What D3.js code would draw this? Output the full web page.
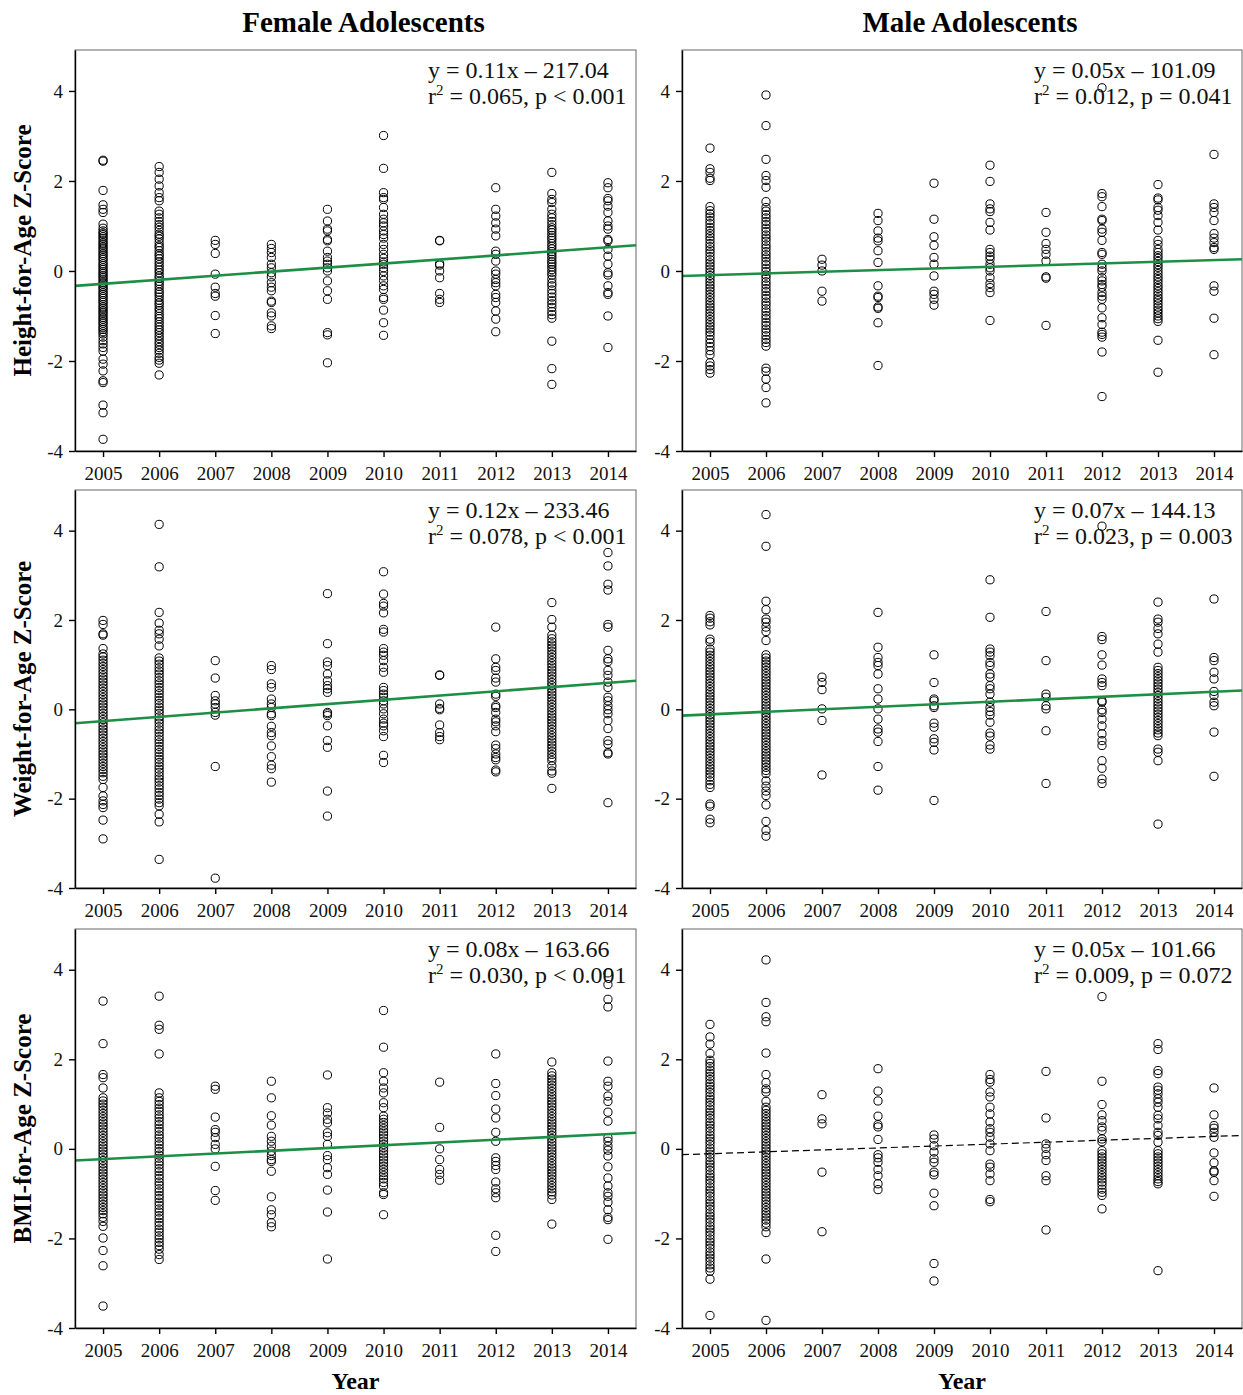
<!DOCTYPE html>
<html>
<head>
<meta charset="UTF-8">
<title>Adolescent Z-Scores by Year</title>
<script src="https://cdn.jsdelivr.net/npm/d3@7"></script>
<style>
  body { margin: 0; background: #fff; }
  svg { display: block; font-family: "Liberation Serif", "Times New Roman", serif; }
</style>
</head>
<body>
<script>
// Survey years (x axis)
var years = [2005, 2006, 2007, 2008, 2009, 2010, 2011, 2012, 2013, 2014];
var yTicks = [-4, -2, 0, 2, 4];

// Height-for-age z-scores, females, one list per year
var heightFemale = [
  [2.46, 2.44, 1.79, 1.47, 1.37, 1.30, 1.04, 0.95, 0.89, 0.84, 0.81, 0.76, 0.72, 0.67, 0.62, 0.58, 0.53, 0.49, 0.44, 0.39, 0.35, 0.30, 0.26, 0.21, 0.16, 0.12, 0.07, 0.03, -0.02, -0.06, -0.11, -0.15, -0.20, -0.25, -0.29, -0.34, -0.38, -0.43, -0.48, -0.52, -0.57, -0.61, -0.66, -0.70, -0.75, -0.80, -0.84, -0.89, -0.93, -0.98, -1.03, -1.07, -1.12, -1.16, -1.21, -1.26, -1.30, -1.35, -1.40, -1.47, -1.55, -1.62, -1.70, -1.78, -1.96, -2.07, -2.22, -2.44, -2.48, -2.98, -3.15, -3.74],
  [2.32, 2.19, 2.04, 1.89, 1.74, 1.63, 1.56, 1.33, 1.26, 1.18, 1.10, 1.03, 0.97, 0.90, 0.82, 0.77, 0.71, 0.63, 0.56, 0.52, 0.45, 0.38, 0.33, 0.27, 0.20, 0.14, 0.08, 0.02, -0.04, -0.11, -0.16, -0.23, -0.28, -0.34, -0.41, -0.47, -0.52, -0.58, -0.65, -0.71, -0.76, -0.83, -0.88, -0.95, -1.01, -1.06, -1.13, -1.19, -1.25, -1.31, -1.37, -1.44, -1.50, -1.57, -1.63, -1.70, -1.76, -1.83, -1.92, -1.98, -2.05, -2.31],
  [0.68, 0.59, 0.39, -0.07, -0.36, -0.50, -0.56, -0.99, -1.39],
  [0.59, 0.50, 0.41, 0.30, 0.15, 0.07, -0.04, -0.13, -0.26, -0.36, -0.44, -0.67, -0.70, -0.93, -1.00, -1.22, -1.28],
  [1.37, 1.11, 0.93, 0.89, 0.70, 0.67, 0.44, 0.30, 0.22, 0.15, 0.07, 0.00, -0.22, -0.44, -0.63, -1.37, -1.42, -2.04],
  [3.01, 2.28, 1.74, 1.63, 1.59, 1.41, 1.26, 1.15, 1.07, 1.00, 0.89, 0.81, 0.73, 0.59, 0.48, 0.37, 0.28, 0.20, 0.15, 0.07, -0.01, -0.11, -0.21, -0.33, -0.41, -0.59, -0.63, -0.87, -1.15, -1.43],
  [0.68, 0.67, 0.16, 0.13, 0.00, -0.15, -0.50, -0.63, -0.70],
  [1.85, 1.37, 1.22, 1.07, 0.93, 0.78, 0.44, 0.37, 0.22, 0.00, -0.07, -0.19, -0.26, -0.33, -0.52, -0.59, -0.70, -0.89, -1.07, -1.35],
  [2.19, 1.72, 1.59, 1.52, 1.37, 1.26, 1.18, 1.10, 1.03, 0.96, 0.91, 0.85, 0.79, 0.73, 0.68, 0.61, 0.55, 0.49, 0.43, 0.38, 0.32, 0.26, 0.20, 0.15, 0.09, 0.03, -0.03, -0.09, -0.18, -0.27, -0.33, -0.42, -0.50, -0.58, -0.66, -0.73, -0.81, -0.90, -0.97, -1.05, -1.56, -2.17, -2.52],
  [1.96, 1.85, 1.61, 1.56, 1.44, 1.30, 1.11, 1.00, 0.93, 0.70, 0.67, 0.48, 0.33, 0.15, -0.04, -0.09, -0.33, -0.48, -0.52, -1.00, -1.70]
];

// Height-for-age z-scores, males
var heightMale = [
  [2.73, 2.27, 2.19, 2.06, 2.01, 1.43, 1.34, 1.27, 1.20, 1.12, 1.05, 0.97, 0.90, 0.83, 0.76, 0.69, 0.61, 0.54, 0.47, 0.40, 0.32, 0.25, 0.18, 0.11, 0.04, -0.03, -0.10, -0.17, -0.24, -0.31, -0.38, -0.45, -0.52, -0.59, -0.66, -0.73, -0.80, -0.87, -0.94, -1.01, -1.08, -1.15, -1.22, -1.29, -1.36, -1.43, -1.52, -1.60, -1.68, -1.77, -1.86, -2.04, -2.11, -2.19, -2.27],
  [3.91, 3.23, 2.48, 2.12, 2.01, 1.86, 1.54, 1.41, 1.33, 1.25, 1.18, 1.10, 1.03, 0.95, 0.88, 0.80, 0.73, 0.66, 0.58, 0.51, 0.43, 0.36, 0.29, 0.21, 0.14, 0.06, -0.01, -0.09, -0.16, -0.24, -0.31, -0.39, -0.46, -0.54, -0.61, -0.69, -0.76, -0.84, -0.91, -0.99, -1.06, -1.14, -1.21, -1.29, -1.36, -1.44, -1.52, -1.59, -1.67, -2.16, -2.23, -2.40, -2.59, -2.93],
  [0.26, 0.13, 0.00, -0.45, -0.67],
  [1.28, 1.12, 0.89, 0.73, 0.67, 0.45, 0.19, -0.33, -0.56, -0.59, -0.80, -0.83, -1.15, -2.10],
  [1.95, 1.15, 0.76, 0.57, 0.30, 0.15, -0.11, -0.45, -0.52, -0.63, -0.76],
  [2.35, 1.99, 1.49, 1.38, 1.32, 1.08, 0.91, 0.48, 0.41, 0.33, 0.26, 0.15, 0.07, 0.00, -0.15, -0.28, -0.37, -0.48, -1.10],
  [1.30, 0.86, 0.61, 0.48, 0.37, 0.22, -0.13, -0.16, -1.21],
  [4.07, 1.72, 1.65, 1.43, 1.15, 1.12, 0.93, 0.86, 0.68, 0.41, 0.37, 0.15, 0.07, 0.00, -0.15, -0.22, -0.30, -0.36, -0.48, -0.56, -0.63, -0.82, -1.04, -1.19, -1.36, -1.41, -1.47, -1.80, -2.79],
  [1.92, 1.62, 1.58, 1.41, 1.35, 1.23, 1.08, 0.91, 0.68, 0.59, 0.48, 0.41, 0.34, 0.28, 0.21, 0.14, 0.08, 0.01, -0.06, -0.13, -0.19, -0.26, -0.33, -0.39, -0.46, -0.53, -0.60, -0.66, -0.73, -0.80, -0.87, -0.93, -1.00, -1.06, -1.12, -1.54, -2.25],
  [2.59, 1.49, 1.41, 1.30, 1.12, 0.83, 0.73, 0.63, 0.52, 0.48, -0.33, -0.45, -1.05, -1.86]
];

// Weight-for-age z-scores, females
var weightFemale = [
  [1.99, 1.90, 1.69, 1.66, 1.36, 1.24, 1.17, 1.10, 1.03, 0.96, 0.89, 0.82, 0.75, 0.68, 0.61, 0.54, 0.47, 0.40, 0.33, 0.26, 0.19, 0.12, 0.05, -0.02, -0.09, -0.16, -0.23, -0.30, -0.37, -0.44, -0.51, -0.58, -0.65, -0.72, -0.79, -0.86, -0.93, -1.00, -1.07, -1.14, -1.21, -1.28, -1.35, -1.42, -1.50, -1.57, -1.75, -1.94, -2.05, -2.13, -2.20, -2.48, -2.90],
  [4.14, 3.19, 2.17, 1.93, 1.77, 1.69, 1.57, 1.42, 1.15, 1.08, 1.01, 0.93, 0.86, 0.79, 0.71, 0.64, 0.57, 0.49, 0.42, 0.35, 0.27, 0.20, 0.13, 0.05, -0.02, -0.09, -0.17, -0.24, -0.31, -0.39, -0.46, -0.53, -0.61, -0.68, -0.75, -0.83, -0.90, -0.97, -1.05, -1.12, -1.19, -1.27, -1.34, -1.41, -1.49, -1.56, -1.63, -1.71, -1.78, -1.86, -1.93, -2.01, -2.09, -2.16, -2.35, -2.52, -3.36],
  [1.09, 0.70, 0.31, 0.19, 0.12, 0.04, -0.07, -0.13, -1.28, -3.78],
  [0.98, 0.89, 0.57, 0.49, 0.23, 0.12, 0.04, -0.10, -0.14, -0.38, -0.52, -0.59, -0.82, -1.06, -1.25, -1.33, -1.63],
  [2.59, 1.47, 1.06, 0.98, 0.79, 0.64, 0.53, 0.46, 0.38, -0.07, -0.10, -0.14, -0.37, -0.70, -0.85, -1.83, -2.39],
  [3.08, 2.58, 2.37, 2.31, 2.16, 1.79, 1.73, 1.36, 1.28, 1.21, 1.09, 0.94, 0.83, 0.49, 0.42, 0.34, 0.27, 0.19, 0.12, 0.01, -0.10, -0.22, -0.31, -0.37, -0.48, -0.61, -1.03, -1.19],
  [0.77, 0.76, 0.12, 0.02, -0.01, -0.35, -0.52, -0.61, -0.68],
  [1.84, 1.13, 0.94, 0.87, 0.70, 0.61, 0.34, 0.29, 0.08, 0.04, -0.07, -0.22, -0.28, -0.37, -0.50, -0.80, -0.88, -1.00, -1.08, -1.13, -1.36, -1.40],
  [2.39, 2.01, 1.84, 1.66, 1.58, 1.51, 1.44, 1.37, 1.30, 1.23, 1.16, 1.09, 1.02, 0.95, 0.88, 0.81, 0.74, 0.67, 0.60, 0.53, 0.46, 0.39, 0.32, 0.25, 0.18, 0.11, 0.04, -0.03, -0.10, -0.17, -0.24, -0.31, -0.38, -0.45, -0.52, -0.59, -0.66, -0.73, -0.80, -0.87, -0.94, -1.01, -1.08, -1.15, -1.27, -1.38, -1.43, -1.77],
  [3.51, 3.21, 2.80, 2.67, 1.90, 1.84, 1.32, 1.13, 1.07, 0.87, 0.76, 0.61, 0.49, 0.27, 0.19, 0.08, -0.01, -0.10, -0.25, -0.43, -0.70, -0.78, -0.97, -1.00, -2.09]
];

// Weight-for-age z-scores, males
var weightMale = [
  [2.10, 2.04, 1.96, 1.89, 1.57, 1.51, 1.35, 1.28, 1.21, 1.14, 1.07, 1.00, 0.93, 0.86, 0.79, 0.72, 0.65, 0.58, 0.51, 0.44, 0.37, 0.30, 0.23, 0.16, 0.09, 0.02, -0.05, -0.12, -0.19, -0.26, -0.33, -0.40, -0.47, -0.54, -0.61, -0.68, -0.75, -0.82, -0.89, -0.96, -1.03, -1.10, -1.17, -1.24, -1.31, -1.38, -1.45, -1.52, -1.60, -1.68, -1.75, -2.12, -2.17, -2.46, -2.54],
  [4.36, 3.65, 2.42, 2.23, 2.02, 1.95, 1.84, 1.74, 1.54, 1.22, 1.15, 1.08, 1.01, 0.94, 0.87, 0.80, 0.73, 0.66, 0.59, 0.52, 0.45, 0.38, 0.31, 0.24, 0.17, 0.10, 0.03, -0.04, -0.11, -0.18, -0.25, -0.32, -0.39, -0.46, -0.53, -0.60, -0.67, -0.74, -0.81, -0.88, -0.95, -1.02, -1.09, -1.16, -1.23, -1.30, -1.37, -1.44, -1.60, -1.72, -1.83, -1.93, -2.14, -2.51, -2.71, -2.84],
  [0.72, 0.60, 0.44, 0.01, -0.25, -1.47],
  [2.17, 1.39, 1.16, 1.05, 0.98, 0.79, 0.46, 0.23, 0.01, -0.22, -0.44, -0.51, -0.72, -1.28, -1.81],
  [1.22, 0.60, 0.23, 0.19, 0.08, 0.04, -0.31, -0.40, -0.66, -0.74, -0.91, -2.04],
  [2.90, 2.06, 1.35, 1.28, 1.20, 1.05, 0.98, 0.79, 0.72, 0.53, 0.46, 0.34, 0.16, 0.04, -0.05, -0.13, -0.29, -0.53, -0.60, -0.80, -0.89],
  [2.19, 1.09, 0.34, 0.27, 0.08, 0.01, -0.48, -1.66],
  [4.10, 1.63, 1.56, 1.22, 0.99, 0.68, 0.60, 0.53, 0.19, 0.16, -0.01, -0.07, -0.22, -0.37, -0.55, -0.70, -0.81, -1.15, -1.32, -1.56, -1.66],
  [2.40, 2.02, 1.95, 1.81, 1.69, 1.46, 1.28, 0.94, 0.87, 0.80, 0.73, 0.66, 0.59, 0.52, 0.45, 0.38, 0.31, 0.24, 0.17, 0.10, 0.03, -0.04, -0.11, -0.18, -0.25, -0.32, -0.39, -0.46, -0.53, -0.59, -0.89, -0.96, -1.15, -2.57],
  [2.47, 1.16, 1.09, 0.83, 0.68, 0.40, 0.31, 0.16, 0.08, -0.51, -1.50]
];

// BMI-for-age z-scores, females
var bmiFemale = [
  [3.30, 2.35, 1.66, 1.59, 1.36, 1.14, 1.07, 1.00, 0.93, 0.86, 0.79, 0.72, 0.65, 0.58, 0.51, 0.44, 0.37, 0.30, 0.23, 0.16, 0.09, 0.02, -0.05, -0.12, -0.19, -0.26, -0.33, -0.40, -0.47, -0.54, -0.61, -0.68, -0.75, -0.82, -0.89, -0.96, -1.03, -1.10, -1.17, -1.24, -1.31, -1.38, -1.45, -1.53, -1.62, -1.73, -1.99, -2.27, -2.61, -3.51],
  [3.41, 2.76, 2.67, 2.12, 1.25, 1.14, 1.06, 0.99, 0.91, 0.84, 0.76, 0.69, 0.61, 0.54, 0.46, 0.39, 0.31, 0.24, 0.16, 0.09, 0.01, -0.06, -0.14, -0.21, -0.29, -0.36, -0.44, -0.51, -0.59, -0.66, -0.74, -0.81, -0.89, -0.96, -1.04, -1.11, -1.19, -1.26, -1.34, -1.41, -1.49, -1.56, -1.64, -1.71, -1.79, -1.86, -1.94, -2.01, -2.09, -2.16, -2.24, -2.36, -2.47],
  [1.40, 1.33, 0.71, 0.43, 0.37, 0.25, 0.10, 0.00, -0.39, -0.93, -1.15],
  [1.51, 1.14, 0.74, 0.53, 0.28, 0.17, 0.06, -0.05, -0.15, -0.24, -0.28, -0.50, -1.07, -1.36, -1.47, -1.65, -1.74],
  [1.65, 0.92, 0.80, 0.66, 0.58, 0.36, 0.28, 0.10, -0.15, -0.24, -0.42, -0.57, -0.92, -1.41, -2.46],
  [3.09, 2.27, 1.70, 1.51, 1.36, 1.25, 1.03, 0.92, 0.73, 0.66, 0.59, 0.52, 0.45, 0.38, 0.31, 0.24, 0.17, 0.10, 0.03, -0.04, -0.11, -0.18, -0.25, -0.32, -0.39, -0.46, -0.53, -0.60, -0.67, -0.75, -0.83, -0.98, -1.02, -1.47],
  [1.49, 0.48, 0.00, -0.24, -0.46, -0.57, -0.70],
  [2.12, 1.46, 1.19, 0.89, 0.69, 0.37, 0.17, -0.20, -0.28, -0.37, -0.46, -0.74, -0.89, -0.98, -1.09, -1.93, -2.29],
  [1.94, 1.70, 1.63, 1.56, 1.49, 1.42, 1.35, 1.28, 1.21, 1.14, 1.07, 1.00, 0.93, 0.86, 0.79, 0.72, 0.65, 0.58, 0.51, 0.44, 0.37, 0.30, 0.23, 0.16, 0.09, 0.02, -0.05, -0.12, -0.19, -0.26, -0.33, -0.40, -0.47, -0.54, -0.61, -0.68, -0.75, -0.82, -0.89, -0.96, -1.03, -1.13, -1.68],
  [3.93, 3.67, 3.34, 3.17, 1.96, 1.51, 1.40, 1.18, 1.06, 0.82, 0.62, 0.25, 0.17, 0.06, -0.03, -0.16, -0.40, -0.65, -0.83, -0.98, -1.06, -1.19, -1.36, -1.53, -1.58, -2.02]
];

// BMI-for-age z-scores, males
var bmiMale = [
  [2.78, 2.50, 2.34, 2.13, 1.98, 1.91, 1.84, 1.76, 1.69, 1.62, 1.55, 1.47, 1.40, 1.33, 1.26, 1.18, 1.11, 1.04, 0.97, 0.89, 0.82, 0.75, 0.68, 0.60, 0.53, 0.46, 0.39, 0.31, 0.24, 0.17, 0.10, 0.02, -0.05, -0.12, -0.19, -0.27, -0.34, -0.41, -0.48, -0.56, -0.63, -0.70, -0.77, -0.85, -0.92, -0.99, -1.06, -1.14, -1.21, -1.28, -1.35, -1.43, -1.50, -1.57, -1.64, -1.72, -1.79, -1.86, -1.93, -2.01, -2.08, -2.15, -2.22, -2.30, -2.37, -2.44, -2.51, -2.59, -2.66, -2.73, -2.91, -3.72],
  [4.22, 3.27, 2.95, 2.84, 2.14, 1.66, 1.48, 1.34, 1.27, 1.06, 0.93, 0.86, 0.79, 0.72, 0.65, 0.58, 0.51, 0.44, 0.37, 0.30, 0.23, 0.16, 0.09, 0.02, -0.05, -0.12, -0.19, -0.26, -0.33, -0.40, -0.47, -0.54, -0.61, -0.68, -0.75, -0.82, -0.89, -0.96, -1.03, -1.10, -1.17, -1.24, -1.31, -1.38, -1.45, -1.52, -1.59, -1.66, -1.74, -1.87, -2.46, -3.83],
  [1.21, 0.67, 0.56, -0.52, -1.85],
  [1.79, 1.29, 1.07, 0.73, 0.54, 0.49, 0.21, -0.13, -0.20, -0.30, -0.46, -0.60, -0.78, -0.91],
  [0.31, 0.22, 0.07, -0.07, -0.22, -0.30, -0.52, -0.58, -0.99, -1.27, -2.56, -2.95],
  [1.66, 1.55, 1.49, 1.27, 1.16, 0.93, 0.78, 0.60, 0.45, 0.37, 0.26, 0.11, -0.04, -0.34, -0.41, -0.56, -0.71, -1.13, -1.18],
  [1.73, 0.69, 0.11, 0.01, -0.13, -0.26, -0.60, -0.71, -1.81],
  [3.40, 1.51, 0.99, 0.76, 0.63, 0.49, 0.41, 0.22, 0.16, -0.04, -0.11, -0.18, -0.25, -0.32, -0.39, -0.46, -0.53, -0.60, -0.67, -0.74, -0.81, -0.90, -0.97, -1.04, -1.34],
  [2.35, 2.22, 1.75, 1.68, 1.38, 1.31, 1.23, 1.12, 1.04, 0.93, 0.75, 0.67, 0.52, 0.37, 0.30, 0.15, -0.04, -0.11, -0.18, -0.25, -0.32, -0.39, -0.46, -0.53, -0.60, -0.67, -0.73, -0.78, -2.72],
  [1.36, 0.76, 0.52, 0.46, 0.37, 0.26, -0.09, -0.31, -0.49, -0.52, -0.71, -1.06]
];

// Fitted line values at the left and right plot edges (2004.5, 2014.5)
var fitHeightFemale = [-0.33, 0.57];
var fitHeightMale = [-0.11, 0.26];
var fitWeightFemale = [-0.31, 0.64];
var fitWeightMale = [-0.14, 0.42];
var fitBmiFemale = [-0.26, 0.36];
var fitBmiMale = [-0.13, 0.30];

// Regression annotations: [equation line, text after the r-squared symbol]
var eqHeightFemale = ["y = 0.11x \u2013 217.04", " = 0.065, p < 0.001"];
var eqHeightMale = ["y = 0.05x \u2013 101.09", " = 0.012, p = 0.041"];
var eqWeightFemale = ["y = 0.12x \u2013 233.46", " = 0.078, p < 0.001"];
var eqWeightMale = ["y = 0.07x \u2013 144.13", " = 0.023, p = 0.003"];
var eqBmiFemale = ["y = 0.08x \u2013 163.66", " = 0.030, p < 0.001"];
var eqBmiMale = ["y = 0.05x \u2013 101.66", " = 0.009, p = 0.072"];

var columnTitles = ["Female Adolescents", "Male Adolescents"];
var rowTitles = ["Height-for-Age Z-Score", "Weight-for-Age Z-Score", "BMI-for-Age Z-Score"];

window.addEventListener('load', function(){

  var W = 1243, H = 1395;
  var cols = [{x0: 75, x1: 636}, {x0: 682, x1: 1242}];
  var rows = [{y0: 50, y1: 451}, {y0: 490, y1: 888}, {y0: 929, y1: 1328}];
  var green = "#1c8f45";

  var panels = [
    {r: 0, c: 0, data: heightFemale, fit: fitHeightFemale, eq: eqHeightFemale},
    {r: 0, c: 1, data: heightMale, fit: fitHeightMale, eq: eqHeightMale},
    {r: 1, c: 0, data: weightFemale, fit: fitWeightFemale, eq: eqWeightFemale},
    {r: 1, c: 1, data: weightMale, fit: fitWeightMale, eq: eqWeightMale},
    {r: 2, c: 0, data: bmiFemale, fit: fitBmiFemale, eq: eqBmiFemale},
    {r: 2, c: 1, data: bmiMale, fit: fitBmiMale, eq: eqBmiMale, dashed: true}
  ];

  var svg = d3.select("body").append("svg")
    .attr("width", W)
    .attr("height", H);

  svg.append("rect").attr("width", W).attr("height", H).attr("fill", "#fff");

  panels.forEach(function(p){
    var col = cols[p.c], row = rows[p.r];
    var x = d3.scaleLinear().domain([2004.5, 2014.5]).range([col.x0, col.x1]);
    var y = d3.scaleLinear().domain([-4, 4.91]).range([row.y1, row.y0]);
    var g = svg.append("g");

    // frame (top/right in grey)
    g.append("rect")
      .attr("x", col.x0).attr("y", row.y0)
      .attr("width", col.x1 - col.x0).attr("height", row.y1 - row.y0)
      .attr("fill", "none").attr("stroke", "#666").attr("stroke-width", 1);

    // points
    var pts = [];
    p.data.forEach(function(vals, i){
      vals.forEach(function(v){ pts.push({yr: years[i], v: v}); });
    });
    g.append("g").selectAll("circle")
      .data(pts)
      .enter().append("circle")
      .attr("cx", function(d){ return x(d.yr); })
      .attr("cy", function(d){ return y(d.v); })
      .attr("r", 4.1)
      .attr("fill", "none")
      .attr("stroke", "#000")
      .attr("stroke-width", 1);

    // fit line
    var line = d3.line().x(function(d){ return x(d[0]); }).y(function(d){ return y(d[1]); });
    g.append("path")
      .datum([[2004.5, p.fit[0]], [2014.5, p.fit[1]]])
      .attr("d", line)
      .attr("fill", "none")
      .attr("stroke", p.dashed ? "#000" : green)
      .attr("stroke-width", p.dashed ? 1.2 : 2.6)
      .attr("stroke-dasharray", p.dashed ? "7,4" : null);

    // axes
    var yAxis = d3.axisLeft(y).tickValues(yTicks).tickSize(6).tickSizeOuter(0).tickPadding(6)
      .tickFormat(function(d){ return String(d); });
    var ya = g.append("g").attr("transform", "translate(" + col.x0 + ",0)").call(yAxis);

    var xAxis = d3.axisBottom(x).tickValues(years).tickSize(6).tickSizeOuter(0).tickPadding(10)
      .tickFormat(function(d){ return String(d); });
    var xa = g.append("g").attr("transform", "translate(0," + row.y1 + ")").call(xAxis);

    [ya, xa].forEach(function(a){
      a.selectAll("path, line").attr("stroke", "#000").attr("stroke-width", 1.4);
      a.selectAll("text").attr("font-family", "Liberation Serif").attr("font-size", 19).attr("fill", "#111");
    });

    // equation text
    var tx = col.x1 - 208;
    g.append("text")
      .attr("x", tx).attr("y", row.y0 + 28)
      .attr("font-size", 24).attr("fill", "#111")
      .text(p.eq[0]);
    var t2 = g.append("text")
      .attr("x", tx).attr("y", row.y0 + 54)
      .attr("font-size", 24).attr("fill", "#111");
    t2.append("tspan").text("r");
    t2.append("tspan").attr("font-size", 15).attr("dy", -9).text("2");
    t2.append("tspan").attr("dy", 9).text(p.eq[1]);
  });

  // column titles
  columnTitles.forEach(function(t, i){
    svg.append("text")
      .attr("x", (cols[i].x0 + cols[i].x1) / 2 + 8)
      .attr("y", 32)
      .attr("text-anchor", "middle")
      .attr("font-size", 29).attr("font-weight", "bold")
      .text(t);
  });

  // row titles
  rowTitles.forEach(function(t, i){
    var cy = (rows[i].y0 + rows[i].y1) / 2;
    svg.append("text")
      .attr("transform", "translate(31," + cy + ") rotate(-90)")
      .attr("text-anchor", "middle")
      .attr("font-size", 25).attr("font-weight", "bold")
      .text(t);
  });

  // x axis titles
  cols.forEach(function(c){
    svg.append("text")
      .attr("x", (c.x0 + c.x1) / 2)
      .attr("y", 1389)
      .attr("text-anchor", "middle")
      .attr("font-size", 24).attr("font-weight", "bold")
      .text("Year");
  });
});
</script>
</body>
</html>
